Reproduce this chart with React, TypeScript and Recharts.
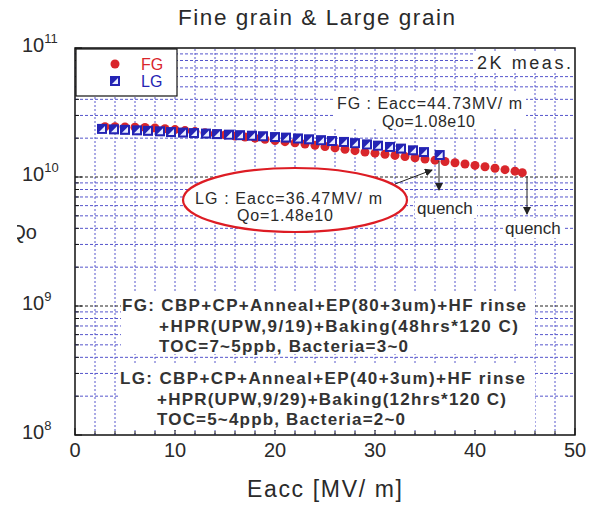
import { ScatterChart, Scatter, XAxis, YAxis, ReferenceLine, ReferenceArea } from "recharts";

// FG (fine grain) - red circles
const fgEacc = [3, 4, 5, 6, 7, 8, 9, 10, 11, 12, 13, 14, 15, 16, 17, 18, 19, 20, 21, 22, 23, 24, 25, 26, 27, 28, 29, 30, 31, 32, 33, 34, 35, 36, 37, 38, 39, 40, 41, 42, 43, 44, 44.73];
const fgQo = [2.45e10, 2.45e10, 2.44e10, 2.43e10, 2.42e10, 2.4e10, 2.37e10, 2.33e10, 2.29e10, 2.25e10, 2.2e10, 2.16e10, 2.12e10, 2.08e10, 2.04e10, 2.0e10, 1.96e10, 1.92e10, 1.88e10, 1.84e10, 1.8e10, 1.76e10, 1.72e10, 1.68e10, 1.64e10, 1.6e10, 1.56e10, 1.53e10, 1.5e10, 1.47e10, 1.44e10, 1.41e10, 1.38e10, 1.35e10, 1.32e10, 1.29e10, 1.26e10, 1.23e10, 1.2e10, 1.17e10, 1.14e10, 1.11e10, 1.08e10];

// LG (large grain) - blue squares
const lgEacc = [2.7, 3.9, 5.0, 6.2, 7.3, 8.5, 9.6, 10.8, 11.9, 13.1, 14.2, 15.4, 16.5, 17.7, 18.8, 20.0, 21.1, 22.3, 23.4, 24.6, 25.7, 26.9, 28.0, 29.2, 30.3, 31.5, 32.6, 33.8, 34.9, 36.47];
const lgQo = [2.36e10, 2.34e10, 2.32e10, 2.3e10, 2.28e10, 2.26e10, 2.23e10, 2.21e10, 2.19e10, 2.17e10, 2.15e10, 2.13e10, 2.11e10, 2.09e10, 2.07e10, 2.04e10, 2.02e10, 1.99e10, 1.96e10, 1.93e10, 1.9e10, 1.87e10, 1.83e10, 1.79e10, 1.75e10, 1.71e10, 1.66e10, 1.61e10, 1.56e10, 1.48e10];

const xTicks = [0, 2, 4, 6, 8, 10, 12, 14, 16, 18, 20, 22, 24, 26, 28, 30, 32, 34, 36, 38, 40, 42, 44, 46, 48, 50];
const xLabels = [0, 10, 20, 30, 40, 50];
const yTicks = [
  1e8, 2e8, 3e8, 4e8, 5e8, 6e8, 7e8, 8e8, 9e8,
  1e9, 2e9, 3e9, 4e9, 5e9, 6e9, 7e9, 8e9, 9e9,
  1e10, 2e10, 3e10, 4e10, 5e10, 6e10, 7e10, 8e10, 9e10, 1e11,
];
const yLabels = [1e8, 1e9, 1e10, 1e11];
const xGrid = xTicks.filter((v) => v > 0 && v < 50);
const yGrid = yTicks.filter((v) => v > 1e8 && v < 1e11);

const fgData = fgEacc.map((x, i) => ({ x, y: fgQo[i] }));
const lgData = lgEacc.map((x, i) => ({ x, y: lgQo[i] }));

const FONT = "Arial, 'Liberation Sans', sans-serif";
const RED = "#d9262b";
const BLUE = "#2424b4";
const GRID = "#5656cc";
const TXT = "#2a2a2a";

const Circle = (props: any) => {
  const { cx, cy } = props;
  return <circle cx={cx} cy={cy} r={4.5} fill={RED} />;
};

const Square = (props: any) => {
  const { cx, cy } = props;
  return (
    <g>
      <rect x={cx - 5} y={cy - 5} width={10} height={10} fill={BLUE} />
      <path d={`M${cx - 3},${cy + 3} L${cx + 3},${cy - 3} L${cx + 3},${cy + 3} Z`} fill="#e8ecff" />
    </g>
  );
};

const isDecade = (v: number) => yLabels.includes(v);

// left axis: inward ticks + 10^n labels
const YTickLeft = (props: any) => {
  const { x, y, payload } = props;
  const v = payload.value;
  const len = isDecade(v) ? 7 : 4;
  return (
    <g>
      <line x1={x} y1={y} x2={x + len} y2={y} stroke="#111" />
      {isDecade(v) && (
        <text x={x - 53} y={y + 4} fontFamily={FONT} fontSize={20} fill={TXT}>
          10<tspan dy={-9} fontSize={13}>{Math.round(Math.log10(v))}</tspan>
        </text>
      )}
    </g>
  );
};

const YTickRight = (props: any) => {
  const { x, y, payload } = props;
  const len = isDecade(payload.value) ? 7 : 4;
  return <line x1={x} y1={y} x2={x - len} y2={y} stroke="#111" />;
};

const XTickBottom = (props: any) => {
  const { x, y, payload } = props;
  const major = xLabels.includes(payload.value);
  return (
    <g>
      <line x1={x} y1={y} x2={x} y2={y - (major ? 7 : 4)} stroke="#111" />
      {major && (
        <text x={x} y={y + 22} textAnchor="middle" fontFamily={FONT} fontSize={20} fill={TXT}>
          {payload.value}
        </text>
      )}
    </g>
  );
};

const XTickTop = (props: any) => {
  const { x, y, payload } = props;
  const major = xLabels.includes(payload.value);
  return <line x1={x} y1={y} x2={x} y2={y + (major ? 7 : 4)} stroke="#111" />;
};

const Block = ({ x, y, lines, widths }: { x: number; y: number; lines: string[]; widths: number[] }) => (
  <g>
    {lines.map((l, i) => (
      <text
        key={i}
        x={i === 0 ? x : x + 37}
        y={y + i * 20.5}
        fontFamily={FONT}
        fontSize={17}
        fontWeight="bold"
        fill="#333"
        textLength={widths[i]}
        lengthAdjust="spacing"
      >
        {l}
      </text>
    ))}
  </g>
);

export default function App() {
  return (
    <div style={{ position: "absolute", left: 0, top: 0, width: 597, height: 506, background: "#fff" }}>
      <ScatterChart width={597} height={506} margin={{ top: 48, right: 22, bottom: 41, left: 15 }}>
        <XAxis
          type="number"
          dataKey="x"
          domain={[0, 50]}
          ticks={xTicks}
          interval={0}
          tick={<XTickBottom />}
          tickLine={false}
          tickSize={0}
          tickMargin={0}
          axisLine={false}
          height={30}
          allowDataOverflow
        />
        <XAxis
          xAxisId="top"
          orientation="top"
          type="number"
          dataKey="x"
          domain={[0, 50]}
          ticks={xTicks}
          interval={0}
          tick={<XTickTop />}
          tickLine={false}
          tickSize={0}
          tickMargin={0}
          axisLine={false}
          height={0}
          allowDataOverflow
        />
        <YAxis
          type="number"
          dataKey="y"
          scale="log"
          domain={[1e8, 1e11]}
          ticks={yTicks}
          interval={0}
          tick={<YTickLeft />}
          tickLine={false}
          tickSize={0}
          tickMargin={0}
          axisLine={false}
          width={60}
          allowDataOverflow
        />
        <YAxis
          yAxisId="right"
          orientation="right"
          type="number"
          dataKey="y"
          scale="log"
          domain={[1e8, 1e11]}
          ticks={yTicks}
          interval={0}
          tick={<YTickRight />}
          tickLine={false}
          tickSize={0}
          tickMargin={0}
          axisLine={false}
          width={0}
          allowDataOverflow
        />
        {xGrid.map((v) => (
          <ReferenceLine key={`vx${v}`} x={v} stroke={GRID} strokeDasharray="2 2" strokeWidth={1} />
        ))}
        {yGrid.map((v) => (
          <ReferenceLine key={`hy${v}`} y={v} stroke={isDecade(v) ? "#222" : GRID} strokeDasharray="3 2" strokeWidth={1} />
        ))}
        <ReferenceArea x1={0} x2={50} y1={1e8} y2={1e11} fill="none" stroke="#111" strokeWidth={1.5} />
        <Scatter data={fgData} shape={<Circle />} isAnimationActive={false} />
        <Scatter data={lgData} shape={<Square />} isAnimationActive={false} />
      </ScatterChart>

      <svg width={597} height={506} style={{ position: "absolute", left: 0, top: 0, pointerEvents: "none" }}>
        <defs>
          <clipPath id="qclip">
            <rect x={17} y={200} width={40} height={60} />
          </clipPath>
          <marker id="arr" markerWidth="8" markerHeight="8" refX="7" refY="4" orient="auto" markerUnits="userSpaceOnUse">
            <path d="M0,0 L8,4 L0,8 Z" fill="#222" />
          </marker>
        </defs>

        <text x={178} y={25} fontFamily={FONT} fontSize={22.5} fill={TXT} textLength={277} lengthAdjust="spacing">
          Fine grain &amp; Large grain
        </text>
        <text x={37} y={239} textAnchor="end" fontFamily={FONT} fontSize={20} fill={TXT} clipPath="url(#qclip)">
          Qo
        </text>
        <text x={247} y={497} fontFamily={FONT} fontSize={23} fill={TXT} textLength={155} lengthAdjust="spacing">
          Eacc [MV/ m]
        </text>

        {/* legend */}
        <rect x={76} y={49} width={101} height={47} fill="#fff" stroke="#111" strokeWidth={1.2} />
        <circle cx={115} cy={64} r={4.5} fill={RED} />
        <text x={141} y={70} fontFamily={FONT} fontSize={16} fill={RED}>FG</text>
        <Square cx={115} cy={81} />
        <text x={141} y={87} fontFamily={FONT} fontSize={16} fill={BLUE}>LG</text>

        {/* 2K meas. */}
        <rect x={474} y={51} width={99} height={22} fill="#fff" />
        <text x={477} y={69} fontFamily={FONT} fontSize={18} fill={TXT} textLength={94} lengthAdjust="spacing">2K meas.</text>

        {/* FG annotation */}
        <rect x={333} y={93} width={193} height={36} fill="#fff" />
        <text x={337} y={109} fontFamily={FONT} fontSize={16} fill={TXT} textLength={185} lengthAdjust="spacing">FG : Eacc=44.73MV/ m</text>
        <text x={382} y={127} fontFamily={FONT} fontSize={16} fill={TXT} textLength={93} lengthAdjust="spacing">Qo=1.08e10</text>

        {/* LG annotation */}
        <ellipse cx={295} cy={200} rx={112} ry={32} fill="#fff" stroke="#dd1c24" strokeWidth={2.2} />
        <text x={195} y={204} fontFamily={FONT} fontSize={16} fill={TXT} textLength={187} lengthAdjust="spacing">LG : Eacc=36.47MV/ m</text>
        <text x={237} y={221} fontFamily={FONT} fontSize={16} fill={TXT} textLength={96} lengthAdjust="spacing">Qo=1.48e10</text>
        <line x1={395} y1={184} x2={432} y2={170} stroke="#222" strokeWidth={1} markerEnd="url(#arr)" />

        {/* quench */}
        <line x1={439} y1={161} x2={439} y2={190} stroke="#222" strokeWidth={1} markerEnd="url(#arr)" />
        <rect x={415} y={198} width={62} height={20} fill="#fff" />
        <text x={417} y={214} fontFamily={FONT} fontSize={17} fill={TXT}>quench</text>
        <line x1={527} y1={176} x2={527} y2={214} stroke="#222" strokeWidth={1} markerEnd="url(#arr)" />
        <rect x={503} y={218} width={62} height={20} fill="#fff" />
        <text x={505} y={234} fontFamily={FONT} fontSize={17} fill={TXT}>quench</text>

        {/* process text */}
        <rect x={121} y={291} width={414} height={63} fill="#fff" />
        <Block
          x={122}
          y={311}
          lines={["FG: CBP+CP+Anneal+EP(80+3um)+HF rinse", "+HPR(UPW,9/19)+Baking(48hrs*120 C)", "TOC=7~5ppb, Bacteria=3~0"]}
          widths={[404, 359, 249]}
        />
        <rect x={119} y={364} width={416} height={66} fill="#fff" />
        <Block
          x={120}
          y={384}
          lines={["LG: CBP+CP+Anneal+EP(40+3um)+HF rinse", "+HPR(UPW,9/29)+Baking(12hrs*120 C)", "TOC=5~4ppb, Bacteria=2~0"]}
          widths={[405, 349, 248]}
        />
      </svg>
    </div>
  );
}
